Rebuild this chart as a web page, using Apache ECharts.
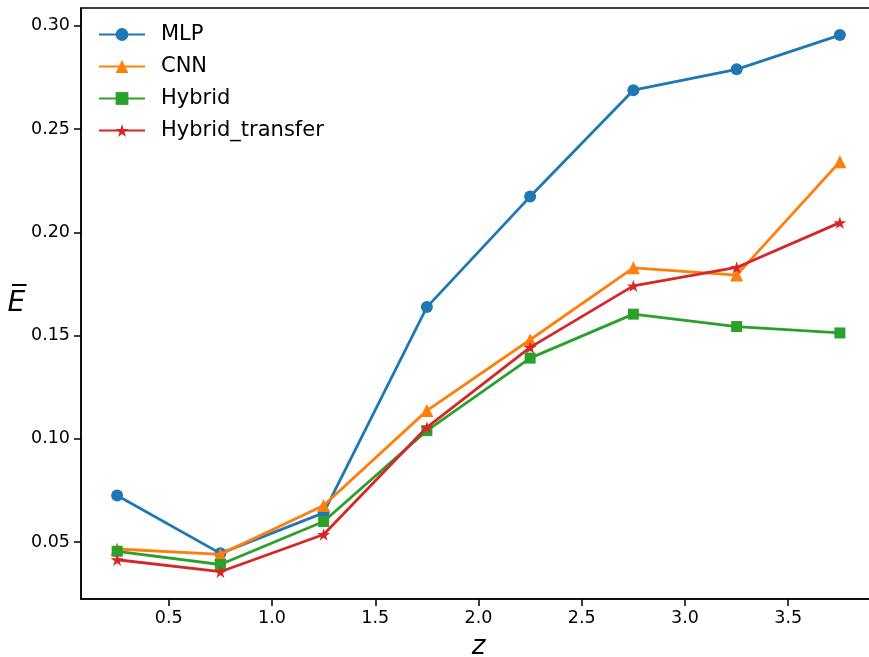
<!DOCTYPE html>
<html>
<head>
<meta charset="utf-8">
<script src="https://cdn.jsdelivr.net/npm/echarts@6/dist/echarts.min.js"></script>
<style>
  html, body { margin: 0; padding: 0; background: #fff; }
  #chart { width: 869px; height: 657px; }
</style>
</head>
<body>
<div id="chart"></div>
<script>
// Sample positions along z and the mean error of each model
const zValues = [0.25, 0.75, 1.25, 1.75, 2.25, 2.75, 3.25, 3.75];
const mlp = [0.0726, 0.0446, 0.0642, 0.1638, 0.2173, 0.2688, 0.2789, 0.2955];
const cnn = [0.0467, 0.0441, 0.0678, 0.1137, 0.1480, 0.1828, 0.1793, 0.2342];
const hybrid = [0.0456, 0.0392, 0.0600, 0.1040, 0.1391, 0.1604, 0.1544, 0.1513];
const hybridTransfer = [0.0415, 0.0357, 0.0537, 0.1056, 0.1443, 0.1741, 0.1830, 0.2047];

const seriesNames = ['MLP', 'CNN', 'Hybrid', 'Hybrid_transfer'];
const xTicks = [0.5, 1.0, 1.5, 2.0, 2.5, 3.0, 3.5];
const yTicks = [0.05, 0.10, 0.15, 0.20, 0.25, 0.30];

const colors = ['#1f77b4', '#ff7f0e', '#2ca02c', '#d62728'];
const starPath = 'path://M0,-10 L2.245,-3.09 L9.51,-3.09 L3.633,1.18 L5.878,8.09 L0,3.82 L-5.878,8.09 L-3.633,1.18 L-9.51,-3.09 L-2.245,-3.09 Z';
const symbols = ['circle', 'triangle', 'rect', starPath];
const symbolSizes = [12, 13, 11, 13];
const FONT = 'DejaVu Sans';

function pairs(values) {
  return zValues.map((z, i) => [z, values[i]]);
}

const allValues = [mlp, cnn, hybrid, hybridTransfer];

const chart = echarts.init(document.getElementById('chart'), null, { renderer: 'canvas' });

chart.setOption({
  backgroundColor: '#ffffff',
  animation: false,
  color: colors,
  grid: {
    left: 81, top: 8, right: -7, bottom: 58,
    containLabel: false,
    outerBoundsMode: 'none',
    show: true, borderColor: '#000', borderWidth: 1.5, backgroundColor: 'transparent'
  },
  legend: {
    orient: 'vertical',
    left: 98,
    top: 24,
    padding: 0,
    itemWidth: 46,
    itemHeight: 16,
    itemGap: 11,
    data: seriesNames,
    textStyle: { fontFamily: FONT, fontSize: 21, color: '#000', padding: [0, 0, 0, 11], lineHeight: 20 }
  },
  xAxis: {
    type: 'value',
    min: 0.075,
    max: 3.925,
    name: 'z',
    nameLocation: 'middle',
    nameGap: 35,
    nameTextStyle: { fontFamily: FONT, fontSize: 26, fontStyle: 'italic', color: '#000' },
    axisLine: { show: true, onZero: false, lineStyle: { color: '#000', width: 1.5 } },
    axisTick: { show: true, inside: false, length: 7, lineStyle: { color: '#000', width: 1.5 }, customValues: xTicks },
    axisLabel: {
      show: true, margin: 10, fontFamily: FONT, fontSize: 17.5, color: '#000',
      customValues: xTicks,
      formatter: v => v.toFixed(1)
    },
    splitLine: { show: false }
  },
  yAxis: {
    type: 'value',
    min: 0.0225,
    max: 0.3086,
    name: 'E\u0305',
    nameLocation: 'middle',
    nameRotate: 0,
    nameGap: 51,
    nameTextStyle: { fontFamily: FONT, fontSize: 28, fontStyle: 'italic', color: '#000' },
    axisLine: { show: true, onZero: false, lineStyle: { color: '#000', width: 1.5 } },
    axisTick: { show: true, inside: false, length: 7, lineStyle: { color: '#000', width: 1.5 }, customValues: yTicks },
    axisLabel: {
      show: true, margin: 11, fontFamily: FONT, fontSize: 17.5, color: '#000',
      customValues: yTicks,
      formatter: v => v.toFixed(2)
    },
    splitLine: { show: false }
  },
  series: seriesNames.map((name, i) => ({
    name: name,
    type: 'line',
    data: pairs(allValues[i]),
    symbol: symbols[i],
    symbolSize: symbolSizes[i],
    symbolKeepAspect: true,
    showAllSymbol: true,
    lineStyle: { width: 2.8, color: colors[i] },
    itemStyle: { color: colors[i], borderWidth: 0 },
    emphasis: { disabled: true },
    z: 2 + i
  }))
});
</script>
</body>
</html>
